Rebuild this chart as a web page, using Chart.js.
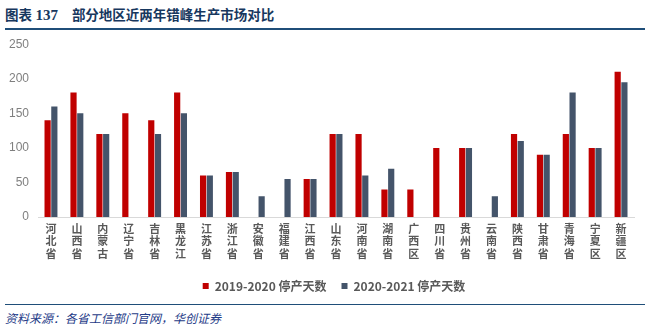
<!DOCTYPE html>
<html>
<head>
<meta charset="utf-8">
<script src="https://cdn.jsdelivr.net/npm/chart.js@4"></script>
<style>
  body { margin: 0; width: 650px; height: 330px; background: #fff; position: relative; overflow: hidden; font-family: "Noto Sans CJK SC", sans-serif; }
  #title { position: absolute; left: 5px; top: 4px; font-size: 13.5px; font-weight: bold; color: #17375e; white-space: pre; font-family: "Liberation Serif", "Noto Sans CJK SC", serif; }
  #title .num { font-size: 15px; }
  #title .cn { font-family: "Noto Sans CJK SC", sans-serif; margin-left: 14px; }
  #topLine { position: absolute; left: 5px; top: 28px; width: 640px; height: 2px; background: #1f4e79; }
  #botLine { position: absolute; left: 5px; top: 304px; width: 640px; height: 1px; background: #1f4e79; }
  #source { position: absolute; left: 5px; top: 309px; font-size: 12px; font-style: italic; color: #1f3c88; }
  #wrap { position: absolute; left: 0; top: 28px; width: 650px; height: 274px; }
</style>
</head>
<body>
<div id="title">图表 <span class="num">137</span><span class="cn">部分地区近两年错峰生产市场对比</span></div>
<div id="topLine"></div>
<div id="wrap"><canvas id="grafico" width="650" height="274"></canvas></div>
<div id="botLine"></div>
<div id="source">资料来源：各省工信部门官网，华创证券</div>
<script>
// Regiões
const regioes = ['河北省', '山西省', '内蒙古', '辽宁省', '吉林省', '黑龙江', '江苏省', '浙江省', '安徽省', '福建省', '江西省',
    '山东省', '河南省', '湖南省', '广西区', '四川省', '贵州省', '云南省', '陕西省', '甘肃省', '青海省', '宁夏区', '新疆区'];

// Dias de parada por período
const dias2019 = [140, 180, 120, 150, 140, 180, 60, 65, null, null, 55, 120, 120, 40, 40, 100, 100, null, 120, 90, 120, 100, 210];
const dias2020 = [160, 150, 120, null, 120, 150, 60, 65, 30, 55, 55, 120, 60, 70, null, null, 100, 30, 110, 90, 180, 100, 195];

const nomesSeries = ['2019-2020 停产天数', '2020-2021 停产天数'];
const yTicks = [0, 50, 100, 150, 200, 250];

// Deslocar a legenda um pouco para a direita, como no original
const deslocaLegenda = {
    id: 'deslocaLegenda',
    afterLayout(chart) {
        chart.legend.left += 17;
        chart.legend.right += 17;
    }
};

const ctx = document.getElementById('grafico').getContext('2d');
new Chart(ctx, {
    type: 'bar',
    data: {
        labels: regioes.map(r => r.split('')),
        datasets: [{
            label: nomesSeries[0],
            data: dias2019,
            backgroundColor: '#c00000',
            categoryPercentage: 0.52,
            barPercentage: 0.92
        }, {
            label: nomesSeries[1],
            data: dias2020,
            backgroundColor: '#44546a',
            categoryPercentage: 0.52,
            barPercentage: 0.92
        }]
    },
    options: {
        responsive: false,
        animation: false,
        maintainAspectRatio: false,
        layout: { padding: { left: 0, right: 16, top: 0, bottom: 0 } },
        scales: {
            x: {
                grid: { display: false, drawTicks: false },
                border: { color: '#d9d9d9' },
                ticks: {
                    color: '#595959',
                    font: { family: 'Noto Sans CJK SC', size: 11, weight: 'bold', lineHeight: 1.15 },
                    padding: 5,
                    maxRotation: 0,
                    autoSkip: false
                }
            },
            y: {
                min: 0,
                max: yTicks[yTicks.length - 1],
                afterBuildTicks: axis => { axis.ticks = yTicks.map(v => ({ value: v })); },
                grid: { display: false, drawTicks: false },
                border: { display: false },
                ticks: {
                    color: '#7f7f7f',
                    font: { family: 'Liberation Sans', size: 12 },
                    padding: 9
                }
            }
        },
        plugins: {
            legend: {
                position: 'bottom',
                labels: {
                    color: '#595959',
                    font: { family: 'Noto Sans CJK SC', size: 12, weight: 'bold' },
                    usePointStyle: true,
                    pointStyle: 'rect',
                    boxWidth: 6,
                    boxHeight: 6,
                    padding: 15
                }
            },
            tooltip: { enabled: false }
        }
    },
    plugins: [deslocaLegenda]
});
</script>
</body>
</html>
